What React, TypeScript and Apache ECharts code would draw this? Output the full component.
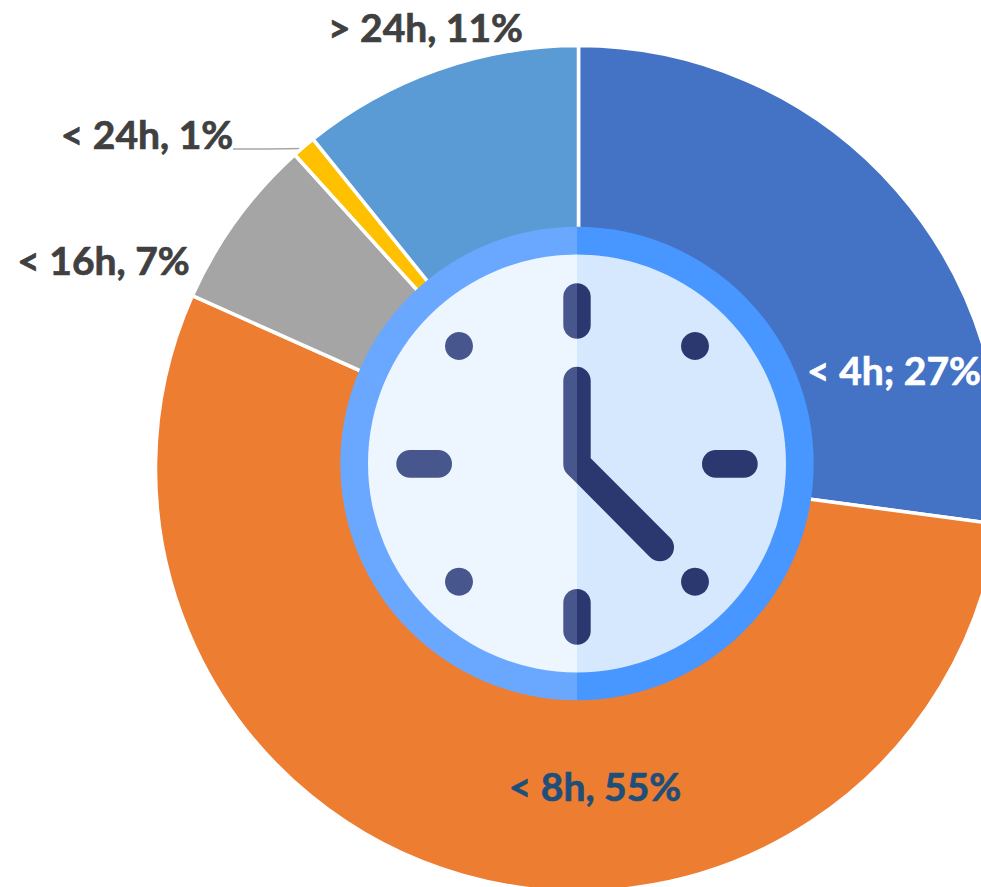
import React, { useEffect, useRef } from "react";
import * as echarts from "echarts";

const categories = ["< 4h", "< 8h", "< 16h", "< 24h", "> 24h"];
const shares = [27.1, 54.6, 6.6, 0.9, 10.8];
const labels = ["< 4h; 27%", "< 8h, 55%", "< 16h, 7%", "< 24h, 1%", "> 24h, 11%"];
const colors = ["#4472C4", "#ED7D31", "#A5A5A5", "#FFC000", "#5B9BD5"];
const labelColors = ["#FFFFFF", "#1F4E79", "#404040", "#404040", "#404040"];
const labelCentres: [number, number][] = [
  [894, 370],
  [595, 786],
  [103.5, 260],
  [147, 134],
  [425.5, 27],
];

const LIGHT_MARK = "#47568C";
const DARK_MARK = "#2B3870";
const CX = 577;
const CY = 463.5;
const Z = 20;

echarts.graphic.registerShape(
  "handLeft",
  echarts.graphic.extendPath(
    "M577 366.7 A14 14 0 0 0 563.3 380.7 L563.3 464 Q563.3 470 567.3 474 L577 483.5 Z",
    {}
  )
);
echarts.graphic.registerShape(
  "handRight",
  echarts.graphic.extendPath(
    "M577 366.7 A14 14 0 0 1 590.7 380.7 L590.7 458.3 L669.9 537.4 A14 14 0 0 1 650.1 557.2 L577 483.5 Z",
    {}
  )
);

function halfDisc(r: number, left: string, right: string) {
  return [
    { type: "sector", z: Z, shape: { cx: CX, cy: CY, r, r0: 0, startAngle: Math.PI / 2, endAngle: (3 * Math.PI) / 2, clockwise: true }, style: { fill: left } },
    { type: "sector", z: Z, shape: { cx: CX, cy: CY, r, r0: 0, startAngle: -Math.PI / 2, endAngle: Math.PI / 2, clockwise: true }, style: { fill: right } },
  ];
}

function splitBar(x1: number, y1: number, x2: number, y2: number) {
  return [
    { type: "rect", z: Z, shape: { x: x1, y: y1, width: CX - x1, height: y2 - y1, r: [13.7, 0, 0, 13.7] }, style: { fill: LIGHT_MARK } },
    { type: "rect", z: Z, shape: { x: CX, y: y1, width: x2 - CX, height: y2 - y1, r: [0, 13.7, 13.7, 0] }, style: { fill: DARK_MARK } },
  ];
}

function bar(x1: number, y1: number, x2: number, y2: number, fill: string) {
  return { type: "rect", z: Z, shape: { x: x1, y: y1, width: x2 - x1, height: y2 - y1, r: 13.8 }, style: { fill } };
}

function dot(cx: number, cy: number, fill: string) {
  return { type: "circle", z: Z, shape: { cx, cy, r: 14 }, style: { fill } };
}

export default function App() {
  const ref = useRef<HTMLDivElement>(null);
  useEffect(() => {
    const chart = echarts.init(ref.current!, undefined, { renderer: "svg" });
    chart.setOption({
      animation: false,
      backgroundColor: "#FFFFFF",
      series: [
        {
          type: "pie",
          center: [578.5, 468.5],
          radius: [150, 423],
          startAngle: 90,
          clockwise: true,
          avoidLabelOverlap: false,
          itemStyle: { borderColor: "#FFFFFF", borderWidth: 3.5 },
          label: {
            show: true,
            position: "outside",
            fontFamily: "Lato",
            fontWeight: "bold",
            fontSize: 39,
            formatter: (p: any) => labels[p.dataIndex],
          },
          labelLine: { show: false },
          labelLayout: (p: any) => {
            const [x, y] = labelCentres[p.dataIndex];
            const out: any = { x, y, align: "center", verticalAlign: "middle" };
            if (p.dataIndex === 3) {
              out.labelLinePoints = [[233, 149], [268, 149], [303, 148.5]];
            }
            return out;
          },
          data: categories.map((name, i) => ({
            name,
            value: shares[i],
            itemStyle: { color: colors[i] },
            label: { color: labelColors[i], textBorderColor: labelColors[i], textBorderWidth: 0.7 },
            labelLine: i === 3 ? { show: true, lineStyle: { color: "#A6A6A6", width: 1.5 } } : { show: false },
          })),
        },
      ],
      graphic: {
        elements: [
          ...halfDisc(236.7, "#6AA8FF", "#4896FF"),
          ...halfDisc(209, "#EDF5FF", "#D5E8FE"),
          ...splitBar(563.3, 283.3, 590.7, 338.7),
          ...splitBar(563.3, 589, 590.7, 644.7),
          bar(396.3, 450, 452, 477.7, LIGHT_MARK),
          bar(702, 450, 757.7, 477.7, DARK_MARK),
          dot(459, 346, LIGHT_MARK),
          dot(695, 346, DARK_MARK),
          dot(459, 581.7, LIGHT_MARK),
          dot(695, 581.7, DARK_MARK),
          { type: "handLeft", z: Z, x: 0, y: 0, style: { fill: LIGHT_MARK } },
          { type: "handRight", z: Z, x: 0, y: 0, style: { fill: DARK_MARK } },
        ],
      },
    });
    return () => chart.dispose();
  }, []);
  return (
    <div
      ref={ref}
      style={{ position: "fixed", left: 0, top: 0, width: 981, height: 887, overflow: "hidden" }}
    />
  );
}
